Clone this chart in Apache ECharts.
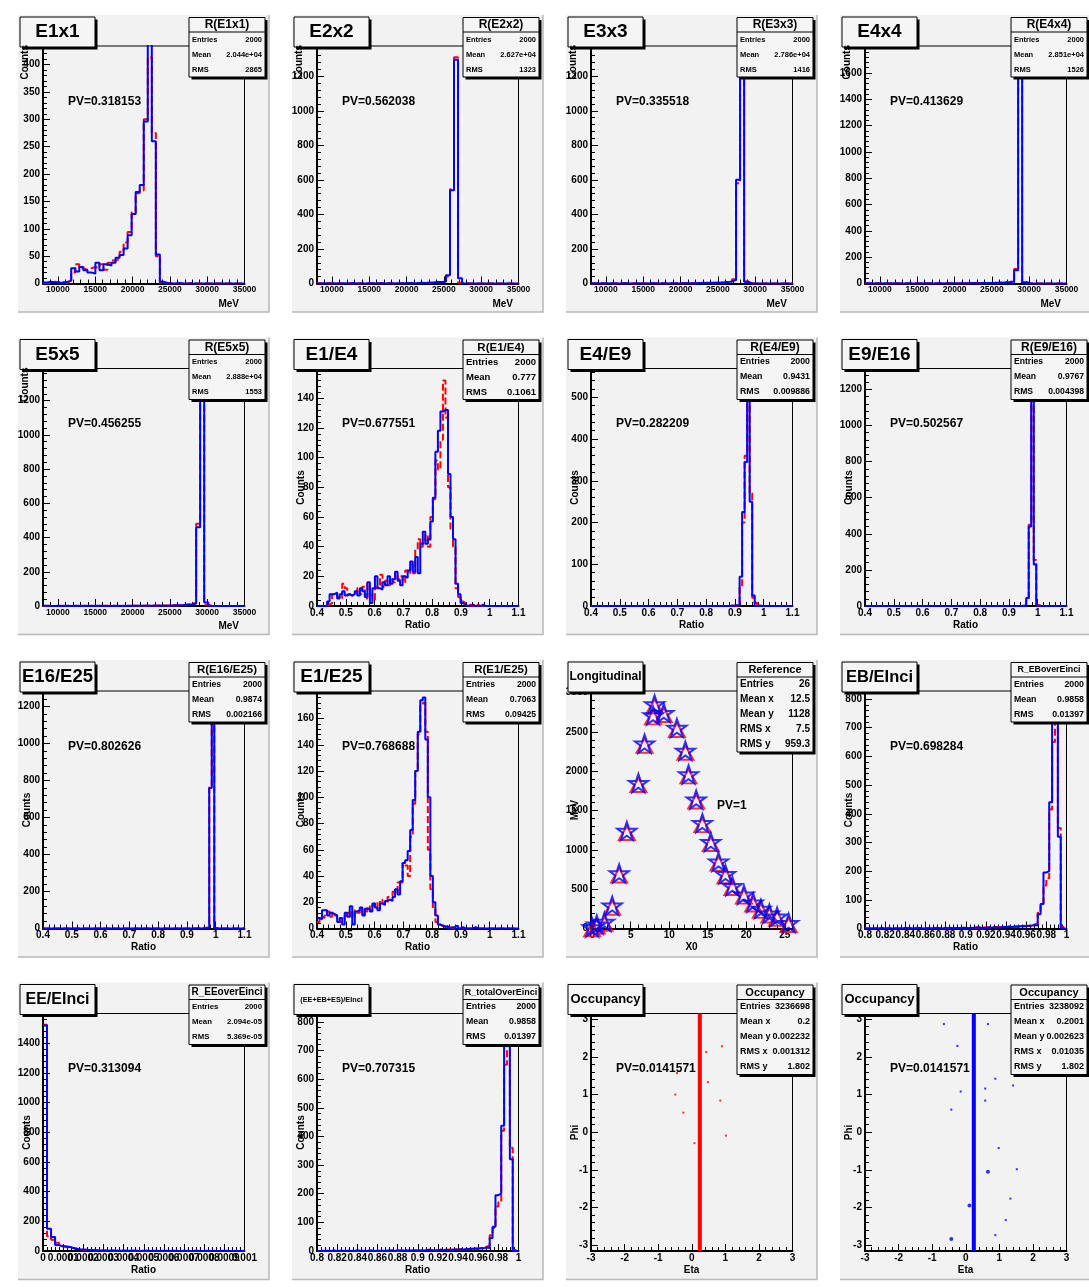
<!DOCTYPE html>
<html><head><meta charset="utf-8">
<script src="https://cdn.jsdelivr.net/npm/echarts@6/dist/echarts.min.js"></script>
<style>html,body{margin:0;padding:0;background:#fff}#c{width:1089px;height:1287px}</style>
</head><body><div id="c"></div>
<script>
// ================= DATA =================
// bin layouts [first edge, bin width]
const energyBins = [8000, 540];
const ratioBins = [0.4, 0.00875];
const inciBins = [0.8, 0.2 / 70];
const eeBins = [0, 0.00002];

// tick label values
const energyXTicks = [10000, 15000, 20000, 25000, 30000, 35000];
const ratioXTicks = [0.4, 0.5, 0.6, 0.7, 0.8, 0.9, 1, 1.1];
const inciXTicks = [0.8, 0.82, 0.84, 0.86, 0.88, 0.9, 0.92, 0.94, 0.96, 0.98, 1];
const eeXTicks = [0, 0.0001, 0.0002, 0.0003, 0.0004, 0.0005, 0.0006, 0.0007, 0.0008, 0.0009, 0.001];
const eeXLabelsEven = [0, 0.0002, 0.0004, 0.0006, 0.0008, 0.001];
const eeXLabelsOdd = [0.0001, 0.0003, 0.0005, 0.0007, 0.0009];
const longXTicks = [0, 5, 10, 15, 20, 25];
const etaTicks = [-3, -2, -1, 0, 1, 2, 3];
const phiTicks = [-3, -2, -1, 0, 1, 2, 3];
const e1x1YTicks = [0, 50, 100, 150, 200, 250, 300, 350, 400];
const e2x2YTicks = [0, 200, 400, 600, 800, 1000, 1200];
const e3x3YTicks = [0, 200, 400, 600, 800, 1000, 1200];
const e4x4YTicks = [0, 200, 400, 600, 800, 1000, 1200, 1400, 1600];
const e5x5YTicks = [0, 200, 400, 600, 800, 1000, 1200];
const e1e4YTicks = [0, 20, 40, 60, 80, 100, 120, 140];
const e4e9YTicks = [0, 100, 200, 300, 400, 500];
const e9e16YTicks = [0, 200, 400, 600, 800, 1000, 1200];
const e16e25YTicks = [0, 200, 400, 600, 800, 1000, 1200];
const e1e25YTicks = [0, 20, 40, 60, 80, 100, 120, 140, 160];
const longYTicks = [0, 500, 1000, 1500, 2000, 2500, 3000];
const ebYTicks = [0, 100, 200, 300, 400, 500, 600, 700, 800];
const eeYTicks = [0, 200, 400, 600, 800, 1000, 1200, 1400];
const totYTicks = [0, 100, 200, 300, 400, 500, 600, 700, 800];

// histogram contents (red = reference, blue = new)
const e1x1Red = [0,2,3,2,3,1,4,20,35,28, 25,28,30,28,35,25,38,42,45,58, 75,94,130,165,170,300,413,275,50,2, 0,1,0,0,0,0,1,0,0,0, 0,0,0,0,0,0,0,0,0,0];
const e1x1Blue = [2,3,2,2,1,3,5,28,22,30, 24,20,18,38,24,35,33,38,47,52, 64,88,127,167,180,296,440,260,53,3, 1,0,0,1,0,0,0,0,0,0, 0,0,0,0,0,0,0,0,0,0];
const e2x2Red = [2,0,3,0,1,2,0,1,0,2, 0,3,0,1,2,0,1,3,0,2, 1,3,2,1,3,2,4,3,6,7, 8,12,40,545,1310,5,2,0,0,0, 0,0,0,0,0,0,0,0,0,0];
const e2x2Blue = [0,1,0,2,0,0,1,0,3,0, 1,0,2,1,0,3,0,2,1,0, 2,1,3,2,2,4,3,5,6,8, 9,10,48,540,1295,30,0,0,0,0, 0,0,0,0,0,0,0,0,0,0];
const e3x3Red = [0,2,0,1,0,2,0,1,2,0, 1,0,2,0,1,0,3,0,1,2, 0,2,1,3,1,2,2,4,3,4, 4,6,5,9,10,25,580,1310,12,2, 0,0,0,0,0,0,0,0,0,0];
const e3x3Blue = [1,0,2,0,1,0,0,2,1,0, 0,1,0,0,2,1,0,1,0,2, 1,0,2,1,1,2,3,2,4,3, 5,4,6,8,12,20,600,1290,10,0, 0,0,0,0,0,0,0,0,0,0];
const e4x4Red = [0,1,0,2,0,1,0,0,2,1, 0,2,1,0,1,0,2,1,0,1, 2,0,1,2,1,3,2,3,2,4, 2,5,4,7,9,12,18,110,1720,12, 1,0,0,0,0,0,0,0,0,0];
const e4x4Blue = [1,0,1,0,2,0,1,1,0,0, 2,0,0,1,0,2,0,1,1,0, 1,2,0,1,2,2,3,2,4,3, 3,4,5,6,8,10,15,100,1740,10, 0,0,0,0,0,0,0,0,0,0];
const e5x5Red = [0,1,0,0,2,0,1,0,1,0, 2,0,1,0,0,1,2,0,1,0, 1,2,1,0,2,1,2,3,2,3, 3,3,4,5,6,9,12,18,480,1322, 8,0,0,0,0,0,0,0,0,0];
const e5x5Blue = [1,0,0,1,0,2,0,1,0,1, 0,1,0,2,1,0,0,1,0,2, 0,1,2,1,1,2,1,2,3,2, 2,3,4,5,6,8,10,15,460,1330, 20,0,0,0,0,0,0,0,0,0];

const e1e4Red = [0,0,0,0,1, 2,8,9,6,5, 15,12,8,7,8, 9,12,8,13,5, 15,8,4,12,14, 21,13,17,14,18, 16,22,18,20,16, 24,22,28,22,38, 45,40,42,48,40, 60,72,98,92,112, 152,127,80,52,40, 12,6,3,2,0, 1,0,0,1,0, 0,0,0,0,0, 0,0,0,0,0, 0,0,0,0,0];
const e1e4Blue = [0,0,0,0,3, 8,8,9,5,8, 10,7,8,7,8, 10,7,12,10,6, 16,2,12,20,12, 11,16,14,20,15, 18,23,17,14,20, 19,24,30,23,33, 22,42,50,42,45, 57,73,104,118,131, 132,132,89,60,45, 15,8,2,1,0, 0,1,0,0,0, 1,0,0,0,0, 0,0,0,0,0, 0,0,0,0,0];
const e4e9Red = [0,0,0,0,0, 0,0,0,0,0, 0,0,0,0,0, 0,0,0,0,0, 0,0,0,0,0, 0,0,0,0,0, 0,0,0,0,0, 0,0,0,0,0, 0,0,0,0,0, 0,0,0,0,0, 0,0,0,0,0, 0,1,0,3,45, 200,360,542,270,20, 8,0,0,0,0, 0,0,0,0,0, 0,0,0,0,0];
const e4e9Blue = [0,0,0,0,0, 0,0,0,0,0, 0,0,0,0,0, 0,0,0,0,0, 0,0,0,0,0, 0,0,0,0,0, 0,0,0,0,0, 0,0,0,0,0, 0,0,0,0,0, 0,0,0,0,0, 0,0,0,0,0, 1,0,2,1,70, 225,345,560,250,25, 0,1,0,0,0, 0,0,0,0,0, 0,0,0,0,0];
const e9e16Red = [0,0,0,0,0, 0,0,0,0,0, 0,0,0,0,0, 0,0,0,0,0, 0,0,0,0,0, 0,0,0,0,0, 0,0,0,0,0, 0,0,0,0,0, 0,0,0,0,0, 0,0,0,0,0, 0,0,0,0,0, 0,0,0,0,0, 0,0,0,5,30, 450,1253,255,6,0, 0,0,0,0,0, 0,0,0,0,0];
const e9e16Blue = [0,0,0,0,0, 0,0,0,0,0, 0,0,0,0,0, 0,0,0,0,0, 0,0,0,0,0, 0,0,0,0,0, 0,0,0,0,0, 0,0,0,0,0, 0,0,0,0,0, 0,0,0,0,0, 0,0,0,0,0, 0,0,0,0,0, 0,0,1,2,45, 440,1285,230,0,0, 0,0,0,0,0, 0,0,0,0,0];
const e16e25Red = [0,0,0,0,0, 0,0,0,0,0, 0,0,0,0,0, 0,0,0,0,0, 0,0,0,0,0, 0,0,0,0,0, 0,0,0,0,0, 0,0,0,0,0, 0,0,0,0,0, 0,0,0,0,0, 0,0,0,0,0, 0,0,0,0,0, 1,0,1,2,4, 6,770,1223,3,0, 0,0,0,0,0, 0,0,0,0,0];
const e16e25Blue = [0,0,0,0,0, 0,0,0,0,0, 0,0,0,0,0, 0,0,0,0,0, 0,0,0,0,0, 0,0,0,0,0, 0,0,0,0,0, 0,0,0,0,0, 0,0,0,0,0, 0,0,0,0,0, 0,0,0,0,0, 0,0,0,0,0, 0,1,0,2,3, 5,760,1240,2,0, 0,0,0,0,0, 0,0,0,0,0];
const e1e25Red = [5,9,8,10,13, 9,12,10,8,5, 7,10,12,8,14, 10,12,15,11,13, 17,14,18,20,15, 22,19,20,24,25, 28,27,35,35,50, 48,40,70,95,120, 148,170,172,150,60, 30,15,5,3,2, 2,1,1,0,1, 0,0,0,0,0, 0,0,0,0,0, 0,0,0,0,0, 0,0,0,0,0, 0,0,0,0,0];
const e1e25Blue = [8,7,14,14,10, 12,11,10,5,8, 3,12,9,17,3, 13,14,16,10,15, 15,13,19,16,14, 19,18,21,22,21, 24,30,26,36,50, 52,59,75,98,120, 150,174,176,144,100, 40,20,10,3,2, 1,2,0,1,0, 2,0,1,0,0, 0,0,1,0,0, 0,0,0,0,0, 0,0,0,0,0, 0,0,0,0,0];
const ebRed = [1,0,0,2,0,1,0,0,1,2, 0,1,0,0,2,0,1,3,0,1, 0,2,0,1,3,0,2,1,0,3, 2,1,2,2,3,1,3,2,3,4, 2,4,3,5,4,5,3,6,5,7, 6,6,8,7,8,10,9,12,14,18, 55,80,150,175,415,650,788,350,5,0];
const ebBlue = [0,0,1,0,0,2,0,1,0,0, 1,0,0,3,0,1,0,0,2,0, 1,0,1,0,2,1,0,3,1,2, 0,2,1,3,2,1,2,3,4,2, 3,2,4,3,5,3,4,5,4,6, 5,7,6,8,9,8,10,10,12,10, 50,85,195,200,440,790,770,320,0,0];
const eeRed = [1525,100,75,55,35,25,20,20,10,8, 6,7,4,4,3,3,2,2,2,1, 2,1,1,1,0,1,1,0,1,0, 1,0,1,0,0,1,0,0,1,0, 0,1,0,0,0,1,0,0,0,0];
const eeBlue = [1520,150,95,40,30,30,25,15,12,8, 8,5,5,3,4,2,3,2,1,2, 1,1,2,0,1,1,0,1,0,1, 0,1,0,0,1,0,0,1,0,0, 1,0,0,0,1,0,0,0,0,1];
const totRed = [0,1,0,1,0,2,0,0,1,0, 1,0,2,0,1,0,0,2,1,0, 1,1,0,2,0,3,1,0,2,1, 3,1,2,2,1,3,2,3,4,3, 2,3,4,5,3,5,4,6,5,6, 7,6,8,8,9,9,10,13,15,20, 55,80,155,170,420,650,790,360,4,0];
const totBlue = [0,0,1,0,0,2,0,1,0,0, 1,0,0,3,0,1,0,0,2,0, 1,0,1,0,2,1,0,3,1,2, 0,2,1,3,2,1,2,3,4,2, 3,2,4,3,5,3,4,5,4,6, 5,7,6,8,9,8,10,10,12,10, 45,85,195,200,437,790,770,320,0,0];

// longitudinal profile (X0, MeV)
const longX = [0, 0.6, 1.6, 2.6, 3.5, 4.5, 6.0, 6.8, 7.9, 8.1, 9.3, 11.0, 12.1, 12.5, 13.5, 14.3, 15.4, 16.4, 17.3, 18.2, 19.7, 20.9, 21.9, 23.0, 24.0, 25.5];
const longRef = [15, 50, 85, 290, 700, 1240, 1850, 2350, 2710, 2850, 2740, 2550, 2260, 1960, 1640, 1340, 1100, 850, 690, 540, 430, 330, 250, 190, 150, 70];
const longNew = [15, 50, 85, 290, 700, 1240, 1850, 2350, 2710, 2850, 2740, 2550, 2260, 1960, 1640, 1340, 1100, 850, 690, 540, 430, 330, 250, 190, 150, 70];

// occupancy (eta, phi)
const occBand = [0.18, 0.30];
const occRefDots = [[0.43,2.13],[0.9,2.28],[-0.44,1.57],[0.48,1.33],[-0.49,1.0],[0.85,0.84],[-0.25,0.52],[1.02,-0.09],[0.08,-0.29]];
const occNewDots = [[-0.65,2.87],[0.66,2.87],[-0.25,2.29],[0.88,1.42],[1.41,1.24],[-0.15,1.08],[0.58,1.16],[0.58,0.84],[-0.43,0.6],[0.98,-0.42],[1.52,-0.98],[1.33,-1.76],[1.19,-2.33],[0.88,-2.73]];
const occNewBigDots = [[0.66,-1.05],[0.11,-1.94],[-0.43,-2.83]];

// ================= LAYOUT / STYLE =================
const FONT = '"Liberation Sans", Arial, Helvetica, sans-serif';
const padX = [18, 292, 566, 840], padY = [15, 337.5, 660, 982.5];
const PW = 251, PH = 297, FL = 25, FT = 31, FW = 201.5, FH = 237.5;
const RED = '#ff0000', BLUE = '#0000ff';
const fmt = v => String(+(+v).toPrecision(10));

function hist(bins, vals) {
  const d = vals.map((v, i) => [bins[0] + bins[1] * i, v]);
  d.push([bins[0] + bins[1] * vals.length, vals[vals.length - 1]]);
  return d;
}
function minorSteps(min, max, step) {
  const out = [];
  const s = Math.ceil(min / step - 1e-9);
  const e = Math.floor(max / step + 1e-9);
  for (let k = s; k <= e; k++) out.push(+(k * step).toPrecision(12));
  return out;
}
const stat3 = (e, m, r) => [['Entries', e], ['Mean', m], ['RMS', r]];

const panels = [
 {title:'E1x1', tSize:19, sTitle:'R(E1x1)', sT:12, sS:7.5, rows:stat3('2000','2.044e+04','2865'), pv:'PV=0.318153', xName:'MeV', xRight:true, yName:'Counts', yTop:true,
  x:[8000,35000,energyXTicks,1000,8.5], y:[0,434,e1x1YTicks,10], bins:energyBins, red:e1x1Red, blue:e1x1Blue},
 {title:'E2x2', tSize:19, sTitle:'R(E2x2)', sT:12, sS:7.5, rows:stat3('2000','2.627e+04','1323'), pv:'PV=0.562038', xName:'MeV', xRight:true, yName:'Counts', yTop:true,
  x:[8000,35000,energyXTicks,1000,8.5], y:[0,1375,e2x2YTicks,40], bins:energyBins, red:e2x2Red, blue:e2x2Blue},
 {title:'E3x3', tSize:19, sTitle:'R(E3x3)', sT:12, sS:7.5, rows:stat3('2000','2.786e+04','1416'), pv:'PV=0.335518', xName:'MeV', xRight:true, yName:'Counts', yTop:true,
  x:[8000,35000,energyXTicks,1000,8.5], y:[0,1375,e3x3YTicks,40], bins:energyBins, red:e3x3Red, blue:e3x3Blue},
 {title:'E4x4', tSize:19, sTitle:'R(E4x4)', sT:12, sS:7.5, rows:stat3('2000','2.851e+04','1526'), pv:'PV=0.413629', xName:'MeV', xRight:true, yName:'Counts', yTop:true,
  x:[8000,35000,energyXTicks,1000,8.5], y:[0,1805,e4x4YTicks,40], bins:energyBins, red:e4x4Red, blue:e4x4Blue},
 {title:'E5x5', tSize:19, sTitle:'R(E5x5)', sT:12, sS:7.5, rows:stat3('2000','2.888e+04','1553'), pv:'PV=0.456255', xName:'MeV', xRight:true, yName:'Counts', yTop:true,
  x:[8000,35000,energyXTicks,1000,8.5], y:[0,1388,e5x5YTicks,40], bins:energyBins, red:e5x5Red, blue:e5x5Blue},
 {title:'E1/E4', tSize:19, sTitle:'R(E1/E4)', sT:11.5, sS:9.5, rows:stat3('2000','0.777','0.1061'), pv:'PV=0.677551', xName:'Ratio', yName:'Counts',
  x:[0.4,1.1,ratioXTicks,0.02,10], y:[0,160,e1e4YTicks,4], bins:ratioBins, red:e1e4Red, blue:e1e4Blue},
 {title:'E4/E9', tSize:19, sTitle:'R(E4/E9)', sT:12, sS:8.8, rows:stat3('2000','0.9431','0.009886'), pv:'PV=0.282209', xName:'Ratio', yName:'Counts',
  x:[0.4,1.1,ratioXTicks,0.02,10], y:[0,569,e4e9YTicks,20], bins:ratioBins, red:e4e9Red, blue:e4e9Blue},
 {title:'E9/E16', tSize:19, sTitle:'R(E9/E16)', sT:12, sS:8.6, rows:stat3('2000','0.9767','0.004398'), pv:'PV=0.502567', xName:'Ratio', yName:'Counts',
  x:[0.4,1.1,ratioXTicks,0.02,10], y:[0,1316,e9e16YTicks,40], bins:ratioBins, red:e9e16Red, blue:e9e16Blue},
 {title:'E16/E25', tSize:18.5, sTitle:'R(E16/E25)', sT:11.5, sS:8.6, rows:stat3('2000','0.9874','0.002166'), pv:'PV=0.802626', xName:'Ratio', yName:'Counts',
  x:[0.4,1.1,ratioXTicks,0.02,10], y:[0,1284,e16e25YTicks,40], bins:ratioBins, red:e16e25Red, blue:e16e25Blue},
 {title:'E1/E25', tSize:19, sTitle:'R(E1/E25)', sT:11.5, sS:8.6, rows:stat3('2000','0.7063','0.09425'), pv:'PV=0.768688', xName:'Ratio', yName:'Counts',
  x:[0.4,1.1,ratioXTicks,0.02,10], y:[0,181,e1e25YTicks,4], bins:ratioBins, red:e1e25Red, blue:e1e25Blue},
 {title:'Longitudinal', tSize:12, sTitle:'Reference', sT:11, sS:10, rows:[['Entries','26'],['Mean x','12.5'],['Mean y','1128'],['RMS x','7.5'],['RMS y','959.3']], pv:'PV=1', pvPos:[151,146], xName:'X0', yName:'MeV',
  x:[-0.15,26,longXTicks,1,10], y:[0,3020,longYTicks,100], kind:'long'},
 {title:'EB/EInci', tSize:16.5, sTitle:'R_EBoverEinci', sT:8.8, sS:8.8, rows:stat3('2000','0.9858','0.01397'), pv:'PV=0.698284', xName:'Ratio', yName:'Counts',
  x:[0.8,1.0,inciXTicks,0.004,10], y:[0,828,ebYTicks,20], bins:inciBins, red:ebRed, blue:ebBlue},
 {title:'EE/EInci', tSize:16, sTitle:'R_EEoverEinci', sT:10, sS:7.8, rows:stat3('2000','2.094e-05','5.369e-05'), pv:'PV=0.313094', xName:'Ratio', yName:'Counts',
  x:[0,0.001,eeXTicks,0.00002,10], xLabels:eeXLabelsEven, xLabels2:eeXLabelsOdd, y:[0,1601,eeYTicks,40], bins:eeBins, red:eeRed, blue:eeBlue},
 {title:'(EE+EB+ES)/EInci', tSize:7.3, sTitle:'R_totalOverEinci', sT:9, sS:8.8, rows:stat3('2000','0.9858','0.01397'), pv:'PV=0.707315', xName:'Ratio', yName:'Counts',
  x:[0.8,1.0,inciXTicks,0.004,10], y:[0,829,totYTicks,20], bins:inciBins, red:totRed, blue:totBlue},
 {title:'Occupancy', tSize:13, sTitle:'Occupancy', sT:11, sS:9, rows:[['Entries','3236698'],['Mean x','0.2'],['Mean y','0.002232'],['RMS x','0.001312'],['RMS y','1.802']], pv:'PV=0.0141571', xName:'Eta', yName:'Phi',
  x:[-3,3,etaTicks,0.2,10], y:[-3.15,3.15,phiTicks,0.2], kind:'occ', color:RED, dots:occRefDots, big:[]},
 {title:'Occupancy', tSize:13, sTitle:'Occupancy', sT:11, sS:9, rows:[['Entries','3238092'],['Mean x','0.2001'],['Mean y','0.002623'],['RMS x','0.01035'],['RMS y','1.802']], pv:'PV=0.0141571', xName:'Eta', yName:'Phi',
  x:[-3,3,etaTicks,0.2,10], y:[-3.15,3.15,phiTicks,0.2], kind:'occ', color:BLUE, dots:occNewDots, big:occNewBigDots}
];

const STAR = 'path://M50,2 L61.8,37.6 L99,37.6 L68.9,59.6 L80.4,95 L50,73 L19.6,95 L31.1,59.6 L1,37.6 L38.2,37.6 Z';

function txt(x, y, text, size, align, vAlign, rot) {
  return {type:'text', x:x, y:y, rotation:rot || 0, z:60, silent:true,
    style:{text:text, x:0, y:0, font:'bold ' + size + 'px ' + FONT, fill:'#000',
      align:align, verticalAlign:vAlign, textAlign:align, textVerticalAlign:vAlign}};
}
function box(x, y, w, h) {
  return [
    {type:'rect', z:50, silent:true, shape:{x:x + 2.5, y:y + 2.5, width:w, height:h}, style:{fill:'#000'}},
    {type:'rect', z:51, silent:true, shape:{x:x, y:y, width:w, height:h}, style:{fill:'#f5f5f5', stroke:'#000', lineWidth:1}}
  ];
}
function labelStyle(values, size, isY) {
  return {show:true, customValues:values, formatter:fmt, fontSize:size, fontWeight:'bold', fontFamily:FONT, color:'#000', margin:isY ? 3 : 2, hideOverlap:false};
}
function majorAxis(i, min, max, ticks, labels, lab, isY) {
  return {gridIndex:i, type:'value', min:min, max:max, position:isY ? 'left' : 'bottom', offset:0,
    axisLine:{show:true, onZero:false, lineStyle:{color:'#000', width:2}},
    axisTick:{show:true, inside:true, length:7, customValues:ticks, lineStyle:{color:'#000', width:1}},
    axisLabel:labelStyle(labels, lab, isY),
    splitLine:{show:false}, minorTick:{show:false}, minorSplitLine:{show:false}};
}
// second axis: minor ticks (and interleaved labels where one axis would drop crowded ones)
function minorAxis(i, min, max, step, isY, extra, lab) {
  return {gridIndex:i, type:'value', min:min, max:max, position:isY ? 'left' : 'bottom', offset:0,
    axisLine:{show:false, onZero:false},
    axisTick:{show:true, inside:true, length:4, customValues:minorSteps(min, max, step), lineStyle:{color:'#000', width:1}},
    axisLabel:extra ? labelStyle(extra, lab, isY) : {show:false}, splitLine:{show:false}};
}

const grids = [], xAxes = [], yAxes = [], series = [], graphics = [];
panels.forEach((p, i) => {
  const r = Math.floor(i / 4), c = i % 4;
  const px = padX[c], py = padY[r];
  // pad
  graphics.push({type:'rect', z:-10, silent:true, shape:{x:px, y:py, width:PW, height:PH}, style:{fill:'#f2f2f2'}});
  graphics.push({type:'polyline', z:-9, silent:true, shape:{points:[[px, py + PH], [px + PW, py + PH], [px + PW, py]]}, style:{stroke:'#b8b8b8', lineWidth:1.5, fill:null}});
  grids.push({left:px + FL, top:py + FT, width:FW, height:FH, show:true, borderColor:'#000', borderWidth:1, backgroundColor:'rgba(0,0,0,0)', containLabel:false, outerBoundsMode:'none'});
  xAxes.push(majorAxis(i, p.x[0], p.x[1], p.x[2], p.xLabels || p.x[2], p.x[4], false));
  xAxes.push(minorAxis(i, p.x[0], p.x[1], p.x[3], false, p.xLabels2, p.x[4]));
  yAxes.push(majorAxis(i, p.y[0], p.y[1], p.y[2], p.y[2], 10, true));
  yAxes.push(minorAxis(i, p.y[0], p.y[1], p.y[3], true));
  const xa = 2 * i, ya = 2 * i;
  if (p.kind === 'long') {
    series.push({type:'scatter', xAxisIndex:xa, yAxisIndex:ya, data:longX.map((x, k) => [x, longRef[k]]), symbol:'triangle', symbolSize:[16, 14], symbolOffset:[0, 2],
      itemStyle:{color:'rgba(0,0,0,0)', borderColor:RED, borderWidth:2}, silent:true, z:3, clip:false});
    series.push({type:'scatter', xAxisIndex:xa, yAxisIndex:ya, data:longX.map((x, k) => [x, longNew[k]]), symbol:STAR, symbolSize:19, symbolKeepAspect:true,
      itemStyle:{color:'rgba(0,0,0,0)', borderColor:BLUE, borderWidth:2}, silent:true, z:4, clip:false});
  } else if (p.kind === 'occ') {
    series.push({type:'custom', xAxisIndex:xa, yAxisIndex:ya, data:[[occBand[0], occBand[1], p.y[1], p.y[0]]], silent:true, z:3,
      renderItem:(params, api) => {
        const a = api.coord([api.value(0), api.value(2)]), b = api.coord([api.value(1), api.value(3)]);
        return {type:'rect', shape:{x:a[0], y:a[1], width:b[0] - a[0], height:b[1] - a[1]}, style:{fill:p.color}};
      }});
    series.push({type:'scatter', xAxisIndex:xa, yAxisIndex:ya, data:p.dots, symbol:'rect', symbolSize:2, itemStyle:{color:p.color}, silent:true, z:3});
    if (p.big.length) series.push({type:'scatter', xAxisIndex:xa, yAxisIndex:ya, data:p.big, symbol:'circle', symbolSize:4, itemStyle:{color:p.color}, silent:true, z:3});
  } else {
    series.push({type:'line', xAxisIndex:xa, yAxisIndex:ya, data:hist(p.bins, p.red), step:'end', symbol:'none', showSymbol:false,
      lineStyle:{color:RED, width:2, type:[7, 3]}, silent:true, z:2});
    series.push({type:'line', xAxisIndex:xa, yAxisIndex:ya, data:hist(p.bins, p.blue), step:'end', symbol:'none', showSymbol:false,
      lineStyle:{color:BLUE, width:2, type:'solid'}, silent:true, z:3});
  }
  // axis titles
  if (p.xRight) graphics.push(txt(px + 221, py + 289, p.xName, 10, 'right', 'middle'));
  else graphics.push(txt(px + 125.5, py + 287.5, p.xName, 10, 'center', 'middle'));
  if (p.yTop) graphics.push(txt(px + 7, py + 30, p.yName, 10, 'right', 'middle', Math.PI / 2));
  else graphics.push(txt(px + 9, py + 150, p.yName, 10, 'center', 'middle', Math.PI / 2));
  // PV
  const pvp = p.pvPos || [50, 86.5];
  graphics.push(txt(px + pvp[0], py + pvp[1], p.pv, 12, 'left', 'middle'));
  // title box
  box(px + 2, py + 2, 75, 30).forEach(e => graphics.push(e));
  graphics.push(txt(px + 2 + 37.5, py + 2 + 15, p.title, p.tSize, 'center', 'middle'));
  // stats box
  const sx = px + 171, sy = py + 2.5, sw = 76, sh = 14.5 + 15 * p.rows.length;
  box(sx, sy, sw, sh).forEach(e => graphics.push(e));
  graphics.push({type:'line', z:52, silent:true, shape:{x1:sx, y1:sy + 14.5, x2:sx + sw, y2:sy + 14.5}, style:{stroke:'#000', lineWidth:1}});
  graphics.push(txt(sx + sw / 2, sy + 7.5, p.sTitle, p.sT, 'center', 'middle'));
  p.rows.forEach((row, k) => {
    const yy = sy + 14.5 + 7.5 + 15 * k;
    graphics.push(txt(sx + 3, yy, row[0], p.sS, 'left', 'middle'));
    graphics.push(txt(sx + sw - 3, yy, row[1], p.sS, 'right', 'middle'));
  });
});

const chart = echarts.init(document.getElementById('c'), null, {renderer:'canvas', width:1089, height:1287});
chart.setOption({
  animation:false,
  backgroundColor:'#ffffff',
  grid:grids, xAxis:xAxes, yAxis:yAxes, series:series,
  graphic:{elements:graphics}
});
</script>
</body></html>
